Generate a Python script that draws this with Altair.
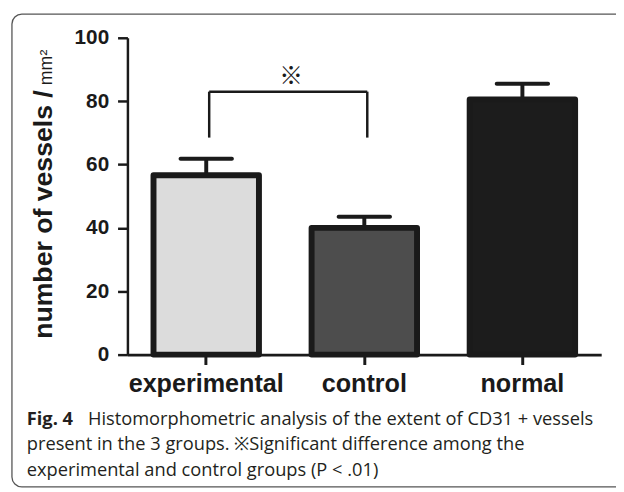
import altair as alt
import pandas as pd

# ---- data ----
groups = ["experimental", "control", "normal"]
means = [56.6, 40.0, 80.5]
errors = [5.2, 3.5, 5.0]
fills = ["#dcdcdc", "#4d4d4d", "#1c1c1c"]

bracket_groups = ["experimental", "control"]
bracket_top = 83.0
bracket_bottom = 68.5
star_y = 87.5

y_ticks = [0, 20, 40, 60, 80, 100]

caption_bold = "Fig. 4"
caption_lines = [
    "Histomorphometric analysis of the extent of CD31 + vessels",
    "present in the 3 groups. ※Significant difference among the",
    "experimental and control groups (P < .01)",
]

df = pd.DataFrame({"group": groups, "mean": means, "err": errors})
df["upper"] = df["mean"] + df["err"]

W, H = 480, 321
BOLD = "Liberation Sans"
INK = "#1a1a1a"

x_scale = alt.Scale(domain=groups, paddingInner=0.333, paddingOuter=0.165)
x_axis = alt.Axis(
    title=None, labelAngle=0, labelFont=BOLD, labelFontWeight="bold",
    labelFontSize=25.5, labelColor=INK, labelPadding=7,
    domainColor=INK, domainWidth=3, tickColor=INK, tickWidth=3, tickSize=10,
)
y_scale = alt.Scale(domain=[0, 100], nice=False)
y_axis = alt.Axis(
    title=None, values=y_ticks, labelFont=BOLD, labelFontWeight="bold",
    labelFontSize=21, labelColor=INK, labelPadding=9,
    domainColor=INK, domainWidth=2.5, tickColor=INK, tickWidth=2.5, tickSize=10,
    grid=False,
)


def X(field):
    return alt.X(field, scale=x_scale, axis=x_axis)


def Y(field):
    return alt.Y(field, scale=y_scale, axis=y_axis)


stems = alt.Chart(df).mark_rule(color=INK, strokeWidth=4).encode(
    x=X("group:N"), y=Y("mean:Q"), y2="upper:Q"
)
bars = alt.Chart(df).mark_bar(stroke=INK, strokeWidth=6, strokeJoin="round").encode(
    x=X("group:N"),
    y=Y("mean:Q"),
    fill=alt.Fill("group:N", scale=alt.Scale(domain=groups, range=fills), legend=None),
)
caps = alt.Chart(df).mark_tick(color=INK, thickness=4, size=56, cornerRadius=2, opacity=1).encode(
    x=X("group:N"), y=Y("upper:Q")
)

br_h = pd.DataFrame({"group": [bracket_groups[0]], "b": [bracket_groups[1]], "y": [bracket_top]})
br_v = pd.DataFrame({"group": bracket_groups, "y": [bracket_bottom] * 2, "y2": [bracket_top] * 2})
bracket_h = alt.Chart(br_h).mark_rule(color=INK, strokeWidth=2.5, xOffset=3, x2Offset=3).encode(
    x=X("group:N"), x2="b:N", y=Y("y:Q")
)
bracket_v = alt.Chart(br_v).mark_rule(color=INK, strokeWidth=2.5, xOffset=3).encode(
    x=X("group:N"), y=Y("y:Q"), y2="y2:Q"
)
star = alt.Chart(pd.DataFrame({"group": [bracket_groups[0]], "y": [star_y], "t": ["※"]})).mark_text(
    font="Noto Sans CJK JP", fontSize=24, color=INK, dx=86, baseline="middle"
).encode(x=X("group:N"), y=Y("y:Q"), text="t:N")

one = pd.DataFrame({"k": [0]})
border = alt.Chart(one).mark_rect(
    fill="transparent", stroke="#555555", strokeWidth=1.3, cornerRadius=10
).encode(x=alt.value(-117), x2=alt.value(520), y=alt.value(-24), y2=alt.value(455))

ytitle = alt.Chart(one).mark_text(
    text="number of vessels /", font=BOLD, fontWeight="bold", fontSize=27, angle=270,
    align="left", baseline="alphabetic", color=INK,
).encode(x=alt.value(-76), y=alt.value(305))
ytitle_unit = alt.Chart(one).mark_text(
    text="mm²", font=BOLD, fontSize=18, angle=270,
    align="left", baseline="alphabetic", color=INK,
).encode(x=alt.value(-76), y=alt.value(48))

CAP_FONT = "Open Sans"
CAP_SIZE = 18.5
CAP_COLOR = "#231f20"
cap_bold = alt.Chart(one).mark_text(
    text=caption_bold, font=CAP_FONT, fontWeight="bold", fontSize=CAP_SIZE, align="left",
    baseline="alphabetic", color=CAP_COLOR,
).encode(x=alt.value(-102), y=alt.value(392))
cap1 = alt.Chart(one).mark_text(
    text=caption_lines[0], font=CAP_FONT, fontSize=CAP_SIZE, align="left",
    baseline="alphabetic", color=CAP_COLOR,
).encode(x=alt.value(-40), y=alt.value(392))
cap2 = alt.Chart(one).mark_text(
    text=caption_lines[1], font=CAP_FONT, fontSize=CAP_SIZE, align="left",
    baseline="alphabetic", color=CAP_COLOR,
).encode(x=alt.value(-102), y=alt.value(418))
cap3 = alt.Chart(one).mark_text(
    text=caption_lines[2], font=CAP_FONT, fontSize=CAP_SIZE, align="left",
    baseline="alphabetic", color=CAP_COLOR,
).encode(x=alt.value(-102), y=alt.value(444))

chart = alt.layer(
    border, stems, bars, caps, bracket_h, bracket_v, star,
    ytitle, ytitle_unit, cap_bold, cap1, cap2, cap3,
).properties(
    width=W, height=H,
    autosize=alt.AutoSizeParams(type="none"),
    padding={"left": 121, "top": 27, "right": 15, "bottom": 136},
    background="white",
).configure_view(stroke=None)

chart.save("out.html", embed_options={"renderer": "svg", "actions": False})
